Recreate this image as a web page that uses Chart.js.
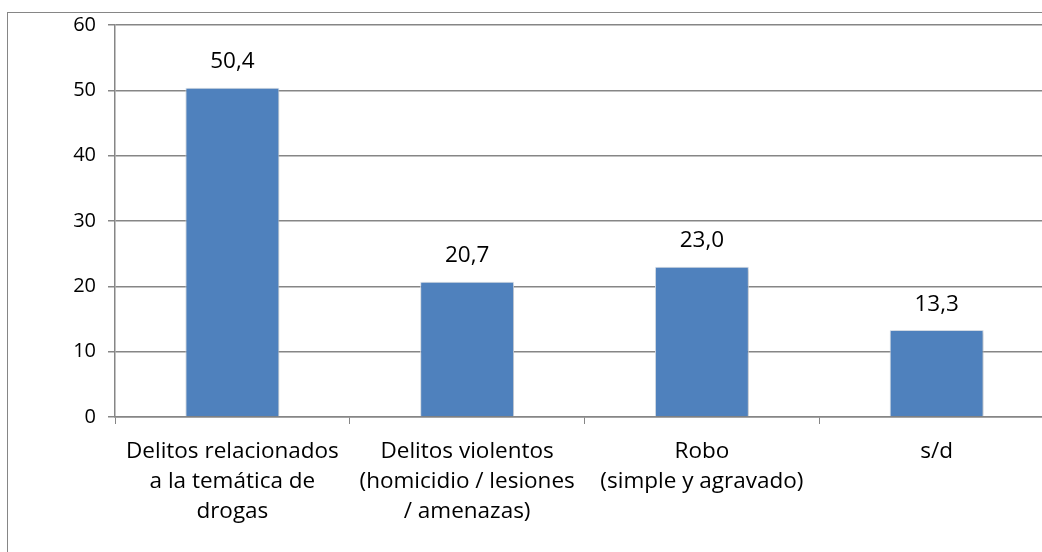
<!DOCTYPE html>
<html>
<head>
<meta charset="utf-8">
<script src="https://cdn.jsdelivr.net/npm/chart.js@4"></script>
<style>
  html, body { margin: 0; padding: 0; background: #fff; overflow: hidden; }
  body { width: 1042px; height: 552px; position: relative; }
  #frame { position: absolute; left: 7px; top: 12px; width: 1100px; height: 600px; border-left: 1px solid #868686; border-top: 1px solid #868686; }
  #c { position: absolute; left: 0; top: 0; }
</style>
</head>
<body>
<div id="frame"></div>
<canvas id="c" width="1060" height="552"></canvas>
<script>
const categories = [
  ['Delitos relacionados', 'a la temática de', 'drogas'],
  ['Delitos violentos', '(homicidio / lesiones', '/ amenazas)'],
  ['Robo', '(simple y agravado)'],
  ['s/d'],
];
const values = [50.4, 20.7, 23.0, 13.3];
const valueLabels = ['50,4', '20,7', '23,0', '13,3'];
const yTicks = [0, 10, 20, 30, 40, 50, 60];

const FONT = '"Open Sans", Lato, sans-serif';

const barLabels = {
  id: 'barLabels',
  beforeDatasetsDraw(chart) {
    const ctx = chart.ctx;
    ctx.save();
    ctx.shadowColor = 'rgba(0,0,0,0.22)';
    ctx.shadowBlur = 4;
    ctx.shadowOffsetX = 1;
    ctx.shadowOffsetY = 1;
  },
  afterDatasetsDraw(chart) {
    const ctx = chart.ctx;
    ctx.restore();
    const meta = chart.getDatasetMeta(0);
    ctx.save();
    ctx.fillStyle = '#000';
    ctx.font = '22.5px ' + FONT;
    ctx.textAlign = 'center';
    ctx.textBaseline = 'middle';
    meta.data.forEach((bar, i) => {
      ctx.fillText(valueLabels[i], bar.x, bar.y - 26);
    });
    ctx.restore();
  },
};

new Chart(document.getElementById('c'), {
  type: 'bar',
  data: {
    labels: categories,
    datasets: [{
      data: values,
      backgroundColor: '#4F81BD',
      borderColor: '#dfe6f0',
      borderWidth: 1,
      barPercentage: 0.4,
      categoryPercentage: 1,
    }],
  },
  options: {
    responsive: false,
    animation: false,
    devicePixelRatio: 1,
    layout: { padding: { top: 25, right: 6, left: 0, bottom: 0 } },
    plugins: { legend: { display: false }, tooltip: { enabled: false } },
    scales: {
      x: {
        afterFit(scale) { scale.height = 135; },
        grid: { offset: true, drawOnChartArea: false, tickLength: 7, color: '#868686' },
        border: { color: '#868686', width: 1.5 },
        ticks: { color: '#000', font: { family: FONT, size: 22.5, lineHeight: 1.333 }, padding: 13, maxRotation: 0, autoSkip: false },
      },
      y: {
        min: 0,
        max: 60,
        afterFit(scale) { scale.width = 115; },
        afterBuildTicks(scale) { scale.ticks = yTicks.map((v) => ({ value: v })); },
        grid: { color: '#868686', lineWidth: 1.5, tickLength: 7 },
        border: { color: '#868686', width: 1.5 },
        ticks: { color: '#000', font: { family: FONT, size: 20 }, padding: 12 },
      },
    },
  },
  plugins: [barLabels],
});
</script>
</body>
</html>
